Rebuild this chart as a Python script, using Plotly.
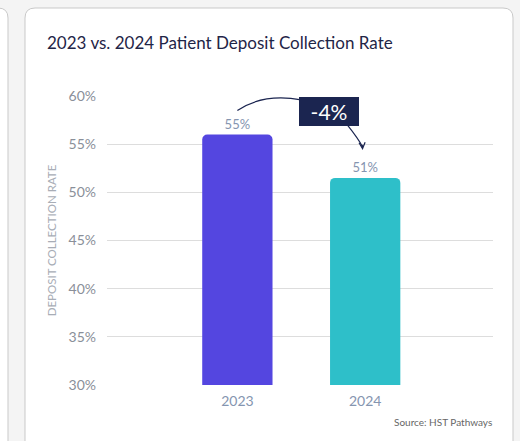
import plotly.graph_objects as go

years = ["2023", "2024"]
rates = [56.0, 51.5]
rate_labels = ["55%", "51%"]
bar_colors = ["#5446e0", "#2ebfc9"]
change_label = "-4%"

# plot area in pixels: x 107..493, y 96..385
L, R, T, B = 107, 27, 96, 56
W, H = 520, 441
pw, ph = W - L - R, H - T - B
FONT = "Lato"


def px(x):
    return (x - L) / pw


def py(y):
    return (H - B - y) / ph


def rounded_rect(x0, y0, x1, y1, r=10):
    rx, ry = r / pw, r / ph
    X0, X1, Y0, Y1 = px(x0), px(x1), py(y0), py(y1)
    return (f"M {X0},{Y1} L {X0},{Y0 - ry} Q {X0},{Y0} {X0 + rx},{Y0} "
            f"L {X1 - rx},{Y0} Q {X1},{Y0} {X1},{Y0 - ry} L {X1},{Y1} Z")


fig = go.Figure()
xs = list(range(len(years)))
fig.add_trace(go.Bar(
    x=xs, y=rates, width=0.55,
    marker=dict(color=bar_colors, cornerradius=5, line_width=0),
    text=rate_labels, textposition="outside", cliponaxis=False,
    textfont=dict(size=13, color="#8595b0"),
    hoverinfo="skip",
))

# cards
shapes = [
    dict(type="path", xref="paper", yref="paper", layer="below",
         path=rounded_rect(-20, 8, 8, 460), fillcolor="white",
         line=dict(color="#c9c9c9", width=1)),
    dict(type="path", xref="paper", yref="paper", layer="below",
         path=rounded_rect(25, 8, 513, 460), fillcolor="white",
         line=dict(color="#c9c9c9", width=1)),
]

# curved arrows for the change callout (data coords derived from values)
top0, top1 = rates[0], rates[1]
shapes.append(dict(
    type="path", xref="x", yref="y",
    path=f"M 0,{top0 + 2.5} Q 0.2,{top0 + 4.3} 0.5,{top0 + 3.6}",
    line=dict(color="#1b2550", width=1.2)))
shapes.append(dict(
    type="path", xref="x", yref="y",
    path=f"M 0.86,{top0 + 1.0} Q 0.95,{top0 - 0.5} 0.98,{top1 + 3.2}",
    line=dict(color="#1b2550", width=1.2)))

annotations = [
    dict(x=0.98, y=top1 + 2.9, ax=0.976, ay=top1 + 3.6, xref="x", yref="y",
         axref="x", ayref="y", text="", showarrow=True, arrowhead=5,
         arrowsize=1, arrowwidth=1.2, arrowcolor="#1b2550"),
    dict(x=0.72, y=top0 + 2.35, xref="x", yref="y", text=change_label,
         showarrow=False, bgcolor="#1b2550", bordercolor="#1b2550",
         borderpad=3, width=52, height=21,
         font=dict(size=21, color="white", family=FONT)),
    dict(x=px(45), y=py(42), xref="paper", yref="paper", xanchor="left",
         yanchor="middle", text="2023 vs. 2024 Patient Deposit Collection Rate",
         showarrow=False, font=dict(size=17, color="#1f2547", family=FONT)),
    dict(x=px(494), y=py(422), xref="paper", yref="paper", xanchor="right",
         yanchor="middle", text="Source: HST Pathways", showarrow=False,
         font=dict(size=10, color="#666666")),
]

fig.update_layout(
    width=W, height=H,
    margin=dict(l=L, r=R, t=T, b=B),
    paper_bgcolor="#f4f4f4", plot_bgcolor="rgba(0,0,0,0)",
    font=dict(family=FONT, color="#8a8f99"),
    showlegend=False, shapes=shapes, annotations=annotations,
    xaxis=dict(range=[-1.02, 2.0], tickvals=xs, ticktext=years,
               showgrid=False, zeroline=False, showline=False,
               ticklabelstandoff=6,
               tickfont=dict(size=14, color="#8595b0")),
    yaxis=dict(range=[30, 60], dtick=5, ticksuffix="%",
               gridcolor="#dddddd", gridwidth=1, zeroline=False,
               tickfont=dict(size=14, color="#8a8f99"),
               ticklabelstandoff=10,
               title=dict(text="DEPOSIT COLLECTION RATE", standoff=9,
                          font=dict(size=11.5, color="#a8adb6"))),
)

fig.write_html("out.html", config={"displayModeBar": False},
               post_script="document.body.style.margin='0';")
